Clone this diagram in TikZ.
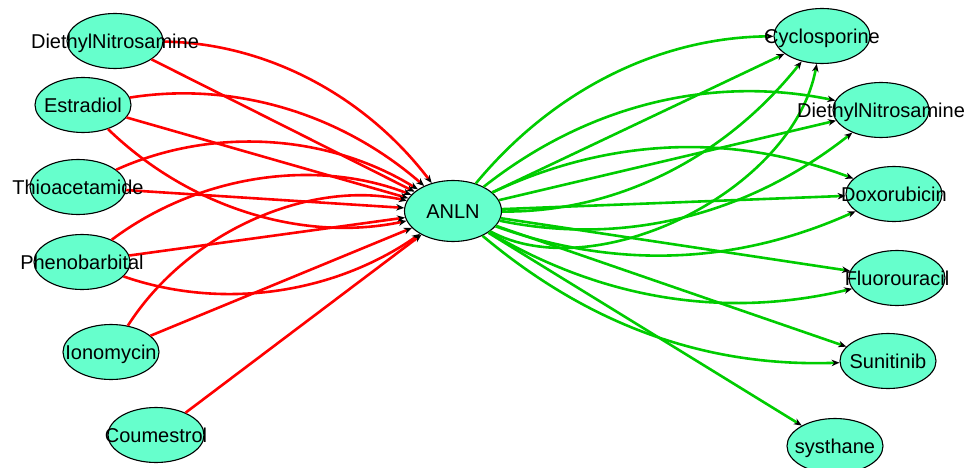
\documentclass[tikz,border=0pt]{standalone}
\usepackage{fontspec}
\setmainfont{Liberation Sans}
\usetikzlibrary{calc,arrows.meta,shapes.geometric}
\definecolor{nodefill}{RGB}{102,255,204}
\definecolor{upedge}{RGB}{255,0,0}
\definecolor{downedge}{RGB}{0,204,0}
\tikzset{
  gene/.style={ellipse,draw=black,line width=1.1pt,fill=nodefill,
    minimum width=96pt,minimum height=55pt,inner sep=0pt},
  lbl/.style={inner sep=0pt,text height=14.3pt,text depth=0pt,
    font=\fontsize{20}{24}\selectfont},
  arrowend/.style={-{Stealth[length=8pt,width=6.5pt,black]}},
  rededge/.style={draw=upedge,line width=2.6pt,arrowend},
  greenedge/.style={draw=downedge,line width=2.6pt,arrowend},
  % curved connector: control points rotated by #1 degrees off the centre line
  arcto/.style={to path={.. controls ($(\tikztostart)!0.3915!#1:(\tikztotarget)$)
    and ($(\tikztotarget)!0.3915!0-(#1):(\tikztostart)$) .. (\tikztotarget) \tikztonodes}},
}
\begin{document}
\begin{tikzpicture}[x=1pt,y=1pt]
\useasboundingbox (0,0) rectangle (966,-468);

% nodes
\node[gene,minimum width=97pt,minimum height=61pt] (anln) at (453,-211) {};
\node[gene] (dnl) at (115,-41) {};
\node[gene] (estr) at (83,-105) {};
\node[gene] (thio) at (78,-187) {};
\node[gene] (phen) at (82,-262) {};
\node[gene] (iono) at (111,-352) {};
\node[gene] (coum) at (156,-435) {};
\node[gene] (cycl) at (822,-36) {};
\node[gene] (dnr) at (881,-110) {};
\node[gene] (doxo) at (894,-194) {};
\node[gene] (fluo) at (897,-278) {};
\node[gene] (suni) at (888,-361) {};
\node[gene] (syst) at (835,-446) {};

% incoming connectors
\draw[rededge] (dnl) to[arcto=26] (anln);
\draw[rededge] (dnl) -- (anln);
\draw[rededge] (estr) to[arcto=25] (anln);
\draw[rededge] (estr) -- (anln);
\draw[rededge] (estr) to[arcto=-28] (anln);
\draw[rededge] (thio) to[arcto=28] (anln);
\draw[rededge] (thio) -- (anln);
\draw[rededge] (phen) to[arcto=29] (anln);
\draw[rededge] (phen) -- (anln);
\draw[rededge] (phen) to[arcto=-27] (anln);
\draw[rededge] (iono) to[arcto=35] (anln);
\draw[rededge] (iono) -- (anln);
\draw[rededge] (coum) -- (anln);

% outgoing connectors
\draw[greenedge] (anln) to[arcto=25] (cycl);
\draw[greenedge] (anln) -- (cycl);
\draw[greenedge] (anln) to[arcto=-26] (cycl);
\draw[greenedge] (anln) to[arcto=-54] (cycl);
\draw[greenedge] (anln) to[arcto=25] (dnr);
\draw[greenedge] (anln) -- (dnr);
\draw[greenedge] (anln) to[arcto=-25] (dnr);
\draw[greenedge] (anln) to[arcto=23] (doxo);
\draw[greenedge] (anln) -- (doxo);
\draw[greenedge] (anln) to[arcto=-22] (doxo);
\draw[greenedge] (anln) -- (fluo);
\draw[greenedge] (anln) to[arcto=-22] (fluo);
\draw[greenedge] (anln) -- (suni);
\draw[greenedge] (anln) to[arcto=-21] (suni);
\draw[greenedge] (anln) -- (syst);

% labels
\node[lbl] (t-anln) at (anln) {ANLN};
\node[lbl] (t-dnl) at (dnl) {DiethylNitrosamine};
\node[lbl] (t-estr) at (estr) {Estradiol};
\node[lbl] (t-thio) at (thio) {Thioacetamide};
\node[lbl] (t-phen) at (phen) {Phenobarbital};
\node[lbl] (t-iono) at (iono) {Ionomycin};
\node[lbl] (t-coum) at (coum) {Coumestrol};
\node[lbl] (t-cycl) at (cycl) {Cyclosporine};
\node[lbl] (t-dnr) at (dnr) {DiethylNitrosamine};
\node[lbl] (t-doxo) at (doxo) {Doxorubicin};
\node[lbl] (t-fluo) at (fluo) {Fluorouracil};
\node[lbl] (t-suni) at (suni) {Sunitinib};
\node[lbl] (t-syst) at (syst) {systhane};
\end{tikzpicture}
\end{document}
